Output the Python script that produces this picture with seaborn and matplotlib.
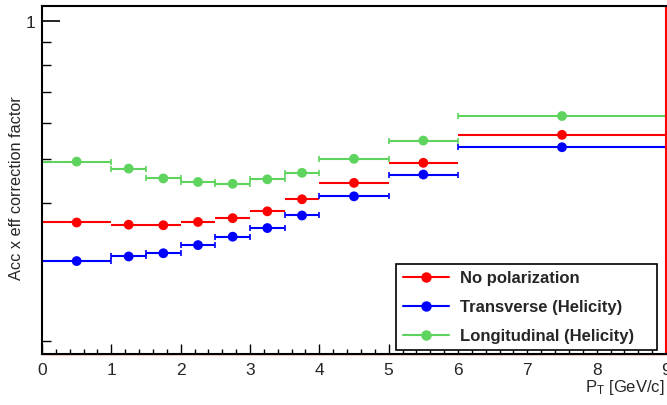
import numpy as np
import pandas as pd
import matplotlib
matplotlib.use("Agg")
import matplotlib.pyplot as plt
from matplotlib.lines import Line2D
from matplotlib.ticker import FixedLocator, NullFormatter, FixedFormatter
import seaborn as sns

# pT bins
pt_center = [0.5, 1.25, 1.75, 2.25, 2.75, 3.25, 3.75, 4.5, 5.5, 7.5]
pt_halfwidth = [0.5, 0.25, 0.25, 0.25, 0.25, 0.25, 0.25, 0.5, 0.5, 1.5]

# correction factors
no_pol = [0.363, 0.359, 0.358, 0.364, 0.371, 0.384, 0.408, 0.443, 0.490, 0.564]
transverse = [0.299, 0.306, 0.311, 0.324, 0.338, 0.353, 0.376, 0.414, 0.462, 0.530]
longitudinal = [0.493, 0.476, 0.453, 0.445, 0.441, 0.451, 0.466, 0.500, 0.548, 0.620]

labels = ["No polarization", "Transverse (Helicity)", "Longitudinal (Helicity)"]
colors = ["#ff0000", "#0000ff", "#5ed35e"]
caps = [0, 2, 2]

sns.set_theme(style="ticks")
plt.rcParams['font.family'] = ['Liberation Sans', 'DejaVu Sans']
plt.rcParams['mathtext.fontset'] = 'custom'
plt.rcParams['mathtext.rm'] = 'Liberation Sans'
plt.rcParams['mathtext.it'] = 'Liberation Sans'

df = pd.concat([
    pd.DataFrame({"pt": pt_center, "xerr": pt_halfwidth, "val": v, "series": lab})
    for v, lab in zip([no_pol, transverse, longitudinal], labels)
])

fig = plt.figure(figsize=(6.67, 4.06), dpi=100)
ax = fig.add_axes([42 / 667, 1 - 355 / 406, 624 / 667, 348 / 406])

for lab, col, cs in zip(labels, colors, caps):
    sub = df[df.series == lab]
    ax.errorbar(sub.pt, sub.val, xerr=sub.xerr, fmt="none", ecolor=col,
                elinewidth=1.5, capsize=cs, capthick=1.2, zorder=2)

sns.scatterplot(data=df, x="pt", y="val", hue="series", palette=colors,
                s=50, edgecolor="none", legend=False, ax=ax, zorder=3)

ax.set_yscale("log")
ax.set_xlim(0, 9)
ax.set_ylim(0.1874, 1.078)

ax.xaxis.set_major_locator(FixedLocator(range(10)))
ax.xaxis.set_minor_locator(FixedLocator(np.arange(0, 9.01, 0.2)))
ax.yaxis.set_major_locator(FixedLocator([1.0]))
ax.yaxis.set_major_formatter(FixedFormatter(["1"]))
ax.yaxis.set_minor_locator(FixedLocator([0.2, 0.4, 0.5, 0.6, 0.7, 0.8, 0.9]))
ax.yaxis.set_minor_formatter(NullFormatter())

ax.tick_params(axis="x", which="major", direction="in", length=7, width=1, labelsize=12.5, pad=6, color="black")
ax.tick_params(axis="x", which="minor", direction="in", length=3.5, width=1, color="black")
ax.tick_params(axis="y", which="major", direction="in", length=13, width=1.2, labelsize=12.5, pad=5, color="black")
ax.tick_params(axis="y", which="minor", direction="in", length=6.5, width=1, color="black")

for s in ["left", "top", "bottom"]:
    ax.spines[s].set_color("black")
    ax.spines[s].set_linewidth(1.5)
ax.spines["right"].set_color("#ff0000")
ax.spines["right"].set_linewidth(1.5)
ax.axhline(0.1874, color="#cc0000", lw=1.0, zorder=1, clip_on=False)

ax.set_xlabel("")
ax.set_ylabel("")
fig.text(17 / 667, 1 - 188 / 406, "Acc x eff correction factor", rotation=90,
         ha="center", va="center", fontsize=11.7)
fig.text(665 / 667, 1 - 388 / 406, r"$\mathregular{P_{T}}$ [GeV/c]", ha="right",
         va="center", fontsize=12)

handles = [Line2D([0], [0], color=c, lw=1.5, marker="o", markersize=6.5) for c in colors]
leg = ax.legend(handles, labels, loc="lower left",
                bbox_to_anchor=(396 / 667, 1 - 351 / 406, 261 / 667, 88 / 406),
                bbox_transform=fig.transFigure, mode="expand", borderaxespad=0,
                prop={"weight": "bold", "size": 12}, handlelength=2.8,
                handletextpad=0.65, labelspacing=0.84, borderpad=0.4,
                frameon=True, fancybox=False, edgecolor="black", framealpha=1)
leg.get_frame().set_linewidth(1.2)

fig.savefig("out.png", dpi=100)
